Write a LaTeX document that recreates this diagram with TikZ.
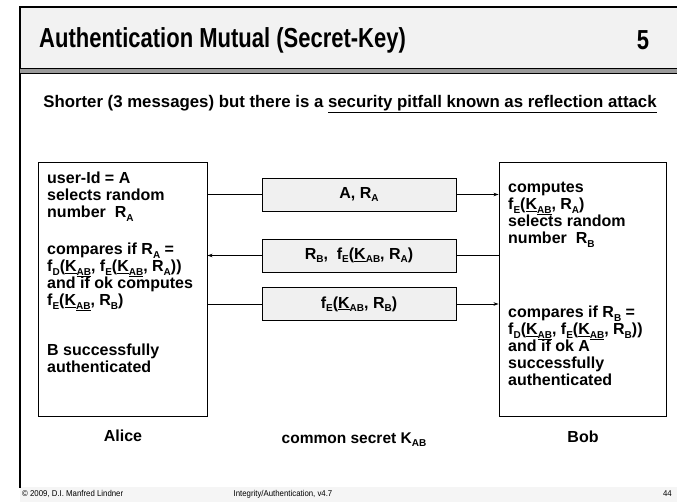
\documentclass[tikz,border=0pt]{standalone}
\usepackage{fontspec}
\setmainfont{Liberation Sans}
\usepackage{graphicx}
\usetikzlibrary{arrows.meta}

\definecolor{titlebg}{HTML}{F2F2F2}
\definecolor{msgbg}{HTML}{F0F0F0}
\definecolor{rulegray}{HTML}{9A9A9A}
\definecolor{footbg}{HTML}{F5F5F5}

% lowered small letters used as subscripts
\newcommand\lsub[1]{\raisebox{-0.4ex}{\fontsize{10}{10}\selectfont #1}}
% shared key, underlined with its index
\newcommand\Kab{\underline{K}\lsub{\underline{AB}}}
% shared key inside the message boxes
\newcommand\Kmsg{\underline{K}\lsub{AB}}

\begin{document}
\begin{tikzpicture}[x=1pt,y=-1pt,
  body/.style={font=\fontsize{16}{17}\selectfont\bfseries, align=left, inner sep=0pt, anchor=north west},
  label/.style={font=\fontsize{16}{17}\selectfont\bfseries, inner sep=0pt},
  party/.style={draw, line width=0.9pt, inner sep=0pt},
  msgbox/.style={draw, fill=msgbg, line width=0.9pt, inner sep=0pt, minimum width=194pt, minimum height=33pt,
                 font=\fontsize{16}{17}\selectfont\bfseries},
  flow/.style={line width=0.9pt},
  tip/.style={-{Stealth[length=5pt,width=3.5pt]}},
  foot/.style={font=\fontsize{8.5}{8.5}\selectfont, inner sep=0pt},
]
\useasboundingbox (0,0) rectangle (677,502);

% slide frame and title bar
\fill[titlebg] (20,7) rectangle (677,68);
\fill[footbg] (20,487) rectangle (677,502);
\draw[line width=1.2pt] (677,7) -- (20,7) -- (20,488);
\fill[rulegray] (20,68) rectangle (677,73);
\draw[line width=0.8pt] (20,68) -- (677,68);
\draw[line width=0.8pt] (20,73) -- (677,73);

\node[font=\fontsize{27.5}{28}\selectfont\bfseries, anchor=west, inner sep=0pt] (title) at (39,40)
  {\scalebox{0.8}[1]{Authentication Mutual (Secret-Key)}};
\node[font=\fontsize{27.5}{28}\selectfont\bfseries, inner sep=0pt] (num) at (643,40) {\scalebox{0.8}[1]{5}};

\node[font=\fontsize{16.8}{17}\selectfont\bfseries, inner sep=0pt] (sub) at (350,104)
  {Shorter (3 messages) but there is a \underline{security pitfall known as reflection attack}};

% the two parties
\node[party, minimum width=169pt, minimum height=254pt] (alice) at (122.5,289) {};
\node[party, minimum width=167pt, minimum height=254pt] (bob) at (582.5,289) {};

\node[body] (a1) at (47,172) {user-Id = A\\selects random\\number\ \ R\lsub{A}};
\node[body] (a2) at (47,243) {compares if R\lsub{A} =\\f\lsub{D}(\Kab, f\lsub{E}(\Kab, R\lsub{A}))\\and if ok computes\\f\lsub{E}(\Kab, R\lsub{B})};
\node[body] (a3) at (47,344) {B successfully\\authenticated};

\node[body] (b1) at (508,182) {computes\\f\lsub{E}(\Kab, R\lsub{A})\\selects random\\number\ \ R\lsub{B}};
\node[body] (b2) at (508,306) {compares if R\lsub{B} =\\f\lsub{D}(\Kab, f\lsub{E}(\Kab, R\lsub{B}))\\and if ok A\\successfully\\authenticated};

% messages on the wire
\node[msgbox] (m1) at (359,194.5) {A, R\lsub{A}};
\node[msgbox] (m2) at (359,255.5) {R\lsub{B},\ \ f\lsub{E}(\Kmsg, R\lsub{A})};
\node[msgbox] (m3) at (359,304) {f\lsub{E}(\Kmsg, R\lsub{B})};

\draw[flow] (alice.east |- m1.west) -- (m1.west);
\draw[flow, tip] (m1.east) -- (bob.west |- m1.east);
\draw[flow] (bob.west |- m2.east) -- (m2.east);
\draw[flow, tip] (m2.west) -- (alice.east |- m2.west);
\draw[flow] (alice.east |- m3.west) -- (m3.west);
\draw[flow, tip] (m3.east) -- (bob.west |- m3.east);

\node[label] (alabel) at (123,436) {Alice};
\node[label] (blabel) at (583,437) {Bob};
\node[label, font=\fontsize{15.5}{16}\selectfont\bfseries] (key) at (354,440) {common secret K\lsub{AB}};

% footer
\node[foot, anchor=west] (copy) at (22,494) {\scalebox{0.92}[1]{© 2009, D.I. Manfred Lindner}};
\node[foot] (topic) at (283,494) {\scalebox{0.92}[1]{Integrity/Authentication, v4.7}};
\node[foot, anchor=east] (page) at (672,494) {\scalebox{0.92}[1]{44}};
\end{tikzpicture}
\end{document}
